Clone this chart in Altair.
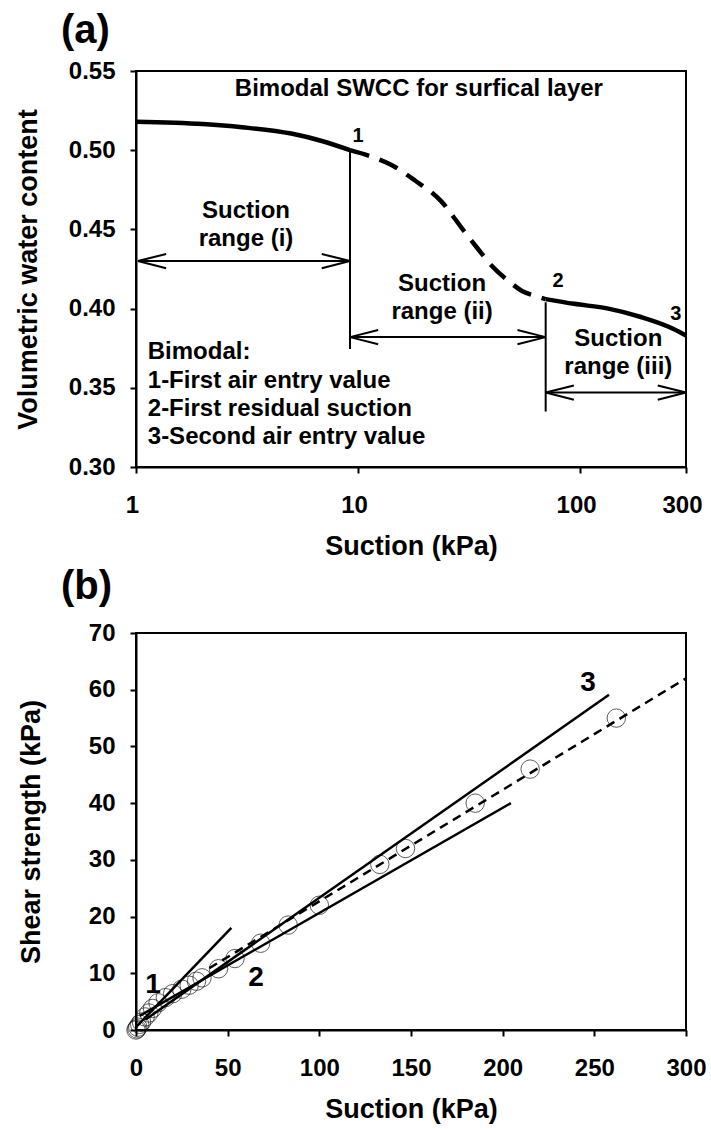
import altair as alt
import pandas as pd

FONT = "Liberation Sans"

# ---------------- Panel (a): bimodal SWCC ----------------
swcc1_x = [1, 2, 3, 5, 7, 9.2]
swcc1_y = [0.518, 0.5165, 0.5145, 0.5105, 0.5055, 0.500]
swcc2_x = [9.2, 12, 14, 18, 23.6, 30, 35, 40, 48, 55, 63, 70]
swcc2_y = [0.500, 0.495, 0.491, 0.481, 0.468, 0.449, 0.437, 0.427, 0.417, 0.411, 0.408, 0.406]
swcc3_x = [70, 94, 134, 188, 265, 300]
swcc3_y = [0.406, 0.403, 0.400, 0.3947, 0.387, 0.383]

div_x = [9.2, 70]
div_top = [0.500, 0.404]
div_bottom = [0.3745, 0.335]

arrow_x1 = [1.02, 9.2, 70]
arrow_x2 = [9.2, 70, 300]
arrow_y = [0.43, 0.382, 0.347]
head_factor = 1.34      # arrowhead length (multiplicative, log axis)
head_half = 0.0045      # arrowhead half-spread (vwc units)

a_ticks_x = [1, 10, 100, 300]
a_ticks_y = [0.30, 0.35, 0.40, 0.45, 0.50, 0.55]

a_text_center = [
    (18.8, 0.5386, "Bimodal SWCC for surfical layer"),
    (3.13, 0.4616, "Suction"), (3.13, 0.4439, "range (i)"),
    (23.9, 0.4155, "Suction"), (23.9, 0.3979, "range (ii)"),
    (148.7, 0.3808, "Suction"), (148.7, 0.3631, "range (iii)"),
]
a_point_labels = [(10.0, 0.509, "1"), (79.5, 0.4174, "2"), (270, 0.3966, "3")]
a_legend_lines = [
    (1.13, 0.3726, "Bimodal:"),
    (1.13, 0.3543, "1-First air entry value"),
    (1.13, 0.3366, "2-First residual suction"),
    (1.13, 0.3189, "3-Second air entry value"),
]

# ---------------- Panel (b): shear strength ----------------
pts_x = [0, 0.5, 1, 2, 3, 5, 7, 9, 12, 16, 20, 25, 29, 33, 36, 45, 54, 68, 83, 100, 133, 147, 185, 215, 262]
pts_y = [0, 0.2, 0.5, 1, 1.4, 2.3, 3.0, 3.8, 4.8, 5.7, 6.4, 7.2, 7.9, 8.6, 9.2, 10.8, 12.6, 15.3, 18.5, 22, 29.2, 32, 40, 46, 55]

line_x1 = [0, 2, 5]
line_y1 = [0.5, 2.5, 1.8]
line_x2 = [52, 204.5, 258]
line_y2 = [18, 40, 59.1]

dash_x = [40, 300]
dash_y = [10.9, 62]

b_labels = [(9.3, 7.9, "1"), (65.5, 9.2, "2"), (246.6, 61.2, "3")]
b_ticks_x = [0, 50, 100, 150, 200, 250, 300]
b_ticks_y = [0, 10, 20, 30, 40, 50, 60, 70]

# ---------------- build panel (a) ----------------
xa = alt.Scale(type="log", domain=[1, 300], nice=False)
ya = alt.Scale(domain=[0.30, 0.55], nice=False, zero=False)

X_A = alt.X("x:Q", scale=xa, axis=alt.Axis(values=a_ticks_x, format="d", title="Suction (kPa)",
                                           labelFlush=False, labelOffset=-4))
Y_A = alt.Y("y:Q", scale=ya, axis=alt.Axis(values=a_ticks_y, format=".2f", title="Volumetric water content", titlePadding=26))

def seg_df(x, y):
    return pd.DataFrame({"x": x, "y": y})

c1 = alt.Chart(seg_df(swcc1_x, swcc1_y)).mark_line(color="black", strokeWidth=4.5, interpolate="monotone").encode(x=X_A, y=Y_A)
c2 = alt.Chart(seg_df(swcc2_x, swcc2_y)).mark_line(color="black", strokeWidth=4.5, strokeDash=[20, 11], interpolate="monotone").encode(x="x:Q", y="y:Q")
c3 = alt.Chart(seg_df(swcc3_x, swcc3_y)).mark_line(color="black", strokeWidth=4.5, interpolate="monotone").encode(x="x:Q", y="y:Q")

div_df = pd.DataFrame({"x": div_x, "y": div_top, "y2": div_bottom})
divs = alt.Chart(div_df).mark_rule(color="black", strokeWidth=2).encode(x="x:Q", y="y:Q", y2="y2")

segs = []
for x1, x2, y in zip(arrow_x1, arrow_x2, arrow_y):
    segs.append((x1, y, x2, y))
    for s in (1, -1):
        segs.append((x1, y, x1 * head_factor, y + s * head_half))
        segs.append((x2, y, x2 / head_factor, y + s * head_half))
arr_df = pd.DataFrame(segs, columns=["x", "y", "x2", "y2"])
arrows = alt.Chart(arr_df).mark_rule(color="black", strokeWidth=2).encode(x="x:Q", y="y:Q", x2="x2", y2="y2")

def text_layer(rows, size, align="center"):
    df = pd.DataFrame(rows, columns=["x", "y", "t"])
    return alt.Chart(df).mark_text(font=FONT, fontWeight="bold", fontSize=size, align=align,
                                   baseline="middle", color="black").encode(x="x:Q", y="y:Q", text="t:N")

ta1 = text_layer(a_text_center, 24)
ta2 = text_layer(a_point_labels, 20)
ta3 = text_layer(a_legend_lines, 24, align="left")

panel_a = alt.layer(c1, c2, c3, divs, arrows, ta1, ta2, ta3).properties(
    width=550, height=396,
    title=alt.TitleParams("(a)", anchor="start", fontSize=40, font=FONT, fontWeight="bold",
                          frame="group", dx=-75, offset=8, color="black"),
)

# ---------------- build panel (b) ----------------
xb = alt.Scale(domain=[0, 300], nice=False)
yb = alt.Scale(domain=[0, 70], nice=False)
X_B = alt.X("x:Q", scale=xb, axis=alt.Axis(values=b_ticks_x, title="Suction (kPa)", labelFlush=False))
Y_B = alt.Y("y:Q", scale=yb, axis=alt.Axis(values=b_ticks_y, title="Shear strength (kPa)", titlePadding=43))

pts = alt.Chart(seg_df(pts_x, pts_y)).mark_point(shape="circle", size=340, filled=False, color="black",
                                                 strokeWidth=0.9).encode(x=X_B, y=Y_B)
ldf = pd.DataFrame({"x": line_x1, "y": line_y1, "x2": line_x2, "y2": line_y2})
lines = alt.Chart(ldf).mark_rule(color="black", strokeWidth=2.5).encode(x="x:Q", y="y:Q", x2="x2", y2="y2")
dash = alt.Chart(seg_df(dash_x, dash_y)).mark_line(color="black", strokeWidth=2.5, strokeDash=[9, 6]).encode(x="x:Q", y="y:Q")
tb = text_layer(b_labels, 28)

panel_b = alt.layer(pts, lines, dash, tb).properties(
    width=550, height=397,
    title=alt.TitleParams("(b)", anchor="start", fontSize=40, font=FONT, fontWeight="bold",
                          frame="group", dx=-75, offset=14, color="black"),
)

chart = alt.vconcat(panel_a, panel_b, spacing=6).properties(
    padding={"left": 13, "top": 10, "right": 2, "bottom": 2}
).configure_view(stroke="black", strokeWidth=2).configure_axis(
    labelFont=FONT, labelFontWeight="bold", labelFontSize=24, labelColor="black",
    titleFont=FONT, titleFontWeight="bold", titleFontSize=27, titleColor="black",
    domainColor="black", domainWidth=2, tickColor="black", tickWidth=2, tickSize=6,
    grid=False,
).configure_axisX(labelPadding=20, titlePadding=16).configure_axisY(labelPadding=15)

chart.save("out.html", embed_options={"renderer": "svg", "actions": False})
